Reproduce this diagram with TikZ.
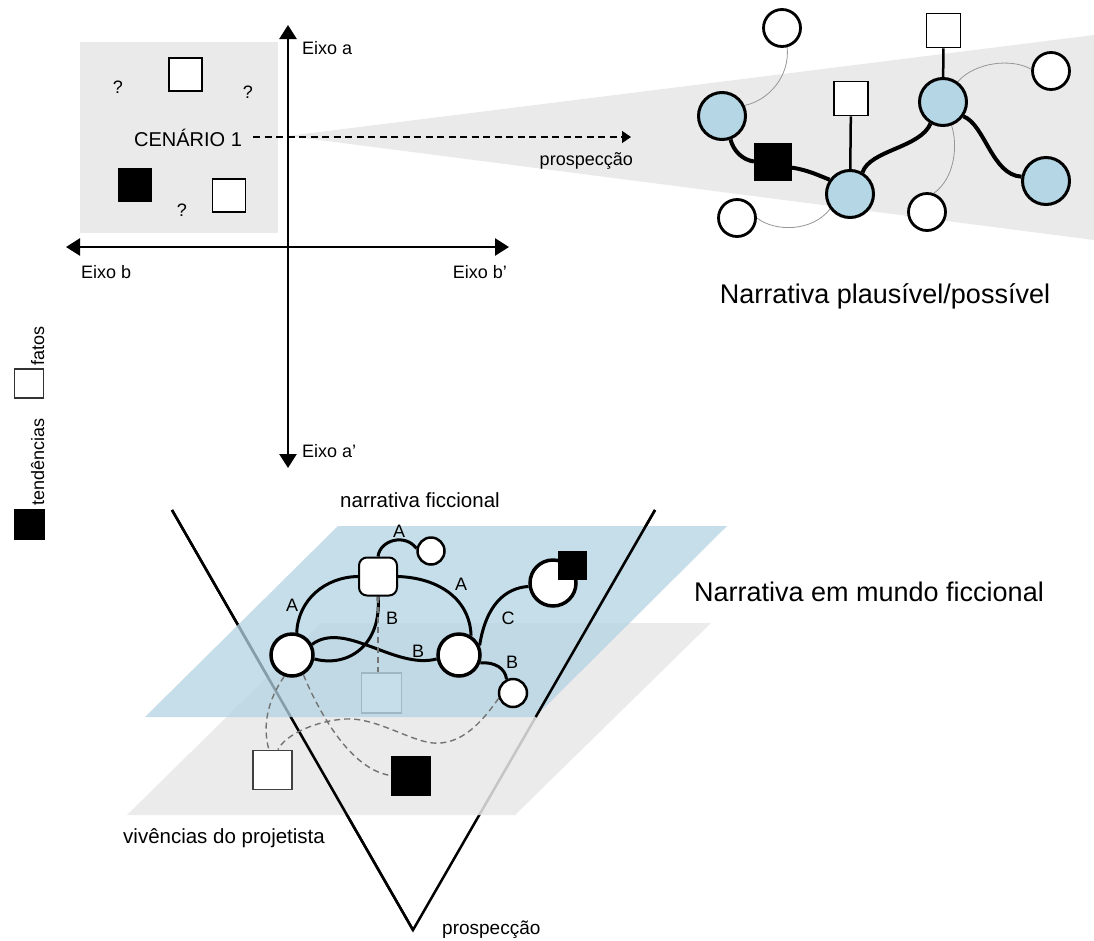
\documentclass[tikz,border=0pt]{standalone}
\usepackage{fontspec}
\setmainfont{Liberation Sans}
\usetikzlibrary{arrows.meta}

\definecolor{boxgray}{RGB}{234,234,234}
\definecolor{planegray}{RGB}{232,232,232}
\definecolor{planeblue}{RGB}{178,211,226}
\definecolor{nodeblue}{RGB}{181,214,228}
\definecolor{dashgray}{RGB}{115,115,115}
\definecolor{faintgray}{RGB}{150,150,150}

\pgfdeclarelayer{planes}
\pgfdeclarelayer{links}
\pgfsetlayers{planes,links,main}

\begin{document}
\begin{tikzpicture}[x=1pt,y=-1pt,
  lbl/.style={inner sep=0pt, font=\fontsize{18}{21}\selectfont},
  midlbl/.style={inner sep=0pt, font=\fontsize{20.5}{24}\selectfont},
  bigttl/.style={inner sep=0pt, font=\fontsize{27}{32}\selectfont},
  factsq/.style={rectangle, draw=black, fill=white, line width=1.8pt, inner sep=0pt, minimum size=#1},
  factsq/.default=33pt,
  trendsq/.style={rectangle, draw=black, fill=black, line width=1pt, inner sep=0pt, minimum size=#1},
  trendsq/.default=33pt,
  bnode/.style={circle, draw=black, fill=nodeblue, line width=3pt, minimum size=47pt, inner sep=0pt},
  wnode/.style={circle, draw=black, fill=white, line width=2.8pt, minimum size=37pt, inner sep=0pt},
  bigc/.style={circle, draw=black, fill=white, line width=3.5pt, minimum size=42pt, inner sep=0pt},
  smallc/.style={circle, draw=black, fill=white, line width=2.5pt, minimum size=27pt, inner sep=0pt},
  rsq/.style={rectangle, rounded corners=8pt, draw=black, fill=white, line width=2pt, minimum size=38pt, inner sep=0pt},
  axisline/.style={line width=2.5pt, {Triangle[length=14pt,width=17pt]}-{Triangle[length=14pt,width=17pt]}},
  prosarrow/.style={line width=1.3pt, dash pattern=on 7pt off 4.5pt, -{Triangle[length=9pt,width=12pt]}},
  heavylink/.style={line width=4pt, draw=black},
  stemlink/.style={line width=2.5pt, draw=black},
  thinlink/.style={line width=0.8pt, draw=faintgray},
  curvelink/.style={line width=3pt, draw=black},
  dlink/.style={line width=1.4pt, draw=dashgray, dash pattern=on 6pt off 4pt},
  vline/.style={line width=2.5pt, draw=black}
]
\useasboundingbox (0,0) rectangle (1094,940);

% ---------- coordinates ----------
\coordinate (aTop) at (288,25);
\coordinate (aBot) at (288,468);
\coordinate (bLeft) at (66,247);
\coordinate (bRight) at (509,247);
\coordinate (prosStart) at (253,137);
\coordinate (prosEnd) at (631,137);
\coordinate (vL) at (172,510);
\coordinate (vR) at (655,510);
\coordinate (vApex) at (413,930);
\coordinate (vRcut) at (535.7,717);

% ---------- planes, wedge and cone ----------
\begin{pgfonlayer}{planes}
  \fill[white] (0,0) rectangle (1094,940);
  \fill[boxgray] (288,136) -- (1094,35) -- (1094,240) -- cycle;
  \fill[boxgray] (80,42) rectangle (278,233);
  % cone drawn whole, then partly covered by the planes
  \draw[vline, line join=miter] (vL) -- (vApex) -- (vR);
  \fill[planegray, fill opacity=0.85] (322,623) -- (711,623) -- (515,815) -- (127,815) -- cycle;
  \draw[vline] (vL) -- (vApex);
  \node[rectangle, draw=black!60, fill=white, line width=1.5pt, minimum size=40pt, inner sep=0pt] (g1) at (381.5,693) {};
  \fill[planeblue, fill opacity=0.75] (338,526) -- (727,526) -- (535,717) -- (145,717) -- cycle;
  \draw[vline] (vR) -- (vRcut);
\end{pgfonlayer}

% ---------- axes ----------
\draw[axisline] (aBot) -- (aTop);
\draw[axisline] (bLeft) -- (bRight);
\node[lbl, anchor=base west] (eixoA) at (302,54) {Eixo a};
\node[lbl, anchor=base west] (eixoA2) at (302,457) {Eixo a’};
\node[lbl, anchor=base west] (eixoB) at (81,278) {Eixo b};
\node[lbl, anchor=base east] (eixoB2) at (507,278) {Eixo b’};

% ---------- scenario box ----------
\node[factsq=33pt] (f1) at (185.5,74.5) {};
\node[trendsq=33pt] (t1) at (135,185) {};
\node[factsq=33pt] (f2) at (229,195.5) {};
\node[lbl, anchor=base] (q1) at (118,93) {?};
\node[lbl, anchor=base] (q2) at (248,98) {?};
\node[lbl, anchor=base] (q3) at (182,216) {?};
\node[inner sep=0pt, font=\fontsize{20}{24}\selectfont, anchor=base] (cen) at (188,146.5) {CENÁRIO 1};
\draw[prosarrow] (prosStart) -- (prosEnd);
\node[lbl, anchor=base east] (prosA) at (633,165) {prospecção};

% ---------- plausible narrative graph ----------
\node[wnode] (w1) at (782,28) {};
\node[bnode] (b1) at (722,116) {};
\node[trendsq=37pt] (t2) at (773,161.5) {};
\node[factsq=34pt] (f3) at (851,98.5) {};
\node[bnode] (b2) at (850,194) {};
\node[wnode] (w2) at (737,218) {};
\node[factsq=34pt] (f4) at (943.5,30.5) {};
\node[bnode] (b3) at (943,102) {};
\node[wnode] (w3) at (1051,71) {};
\node[wnode] (w4) at (927,212) {};
\node[bnode] (b4) at (1046,181) {};

\begin{pgfonlayer}{links}
  \draw[thinlink] (w1.-75) .. controls (790,75) and (770,100) .. (b1.25);
  \draw[thinlink] (w2.0) .. controls (775,232) and (812,232) .. (b2.217);
  \draw[thinlink] (b3.54) .. controls (975,62) and (1012,58) .. (w3.175);
  \draw[thinlink] (b3.-70) .. controls (958,145) and (955,178) .. (w4.70);
  \draw[heavylink] (b1.-70) .. controls (733,150) and (742,160) .. (t2.west);
  \draw[heavylink] (t2.-18) .. controls (808,170) and (820,176) .. (b2.145);
  \draw[heavylink] (b2.60) .. controls (870,150) and (920,148) .. (b3.-120);
  \draw[heavylink] (b3.-35) .. controls (985,125) and (992,175) .. (b4.170);
  \draw[stemlink] (f3) -- (b2);
  \draw[stemlink] (f4) -- (b3);
\end{pgfonlayer}

\node[bigttl, anchor=base] (ttl1) at (885,303) {Narrativa plausível/possível};

% ---------- fictional world graph ----------
\node[rsq] (r1) at (378,576.5) {};
\node[smallc] (s1) at (431,551) {};
\node[bigc] (L1) at (292,655) {};
\node[bigc] (R1) at (459,655) {};
\node[smallc, minimum size=28pt] (s2) at (513,693) {};
\node[bigc, minimum size=46pt] (c1) at (553,583) {};
\node[trendsq=28pt] (t3) at (572.5,565) {};
\node[factsq=39pt, draw=black!75] (f5) at (272.5,770) {};
\node[trendsq=39pt] (t4) at (411,775.5) {};

\begin{pgfonlayer}{links}
  \draw[curvelink] (r1.north) .. controls (380,540) and (405,533) .. (s1.170);
  \draw[curvelink] (r1.west) .. controls (325,577) and (298,600) .. (L1.78);
  \draw[curvelink] (r1.east) .. controls (440,578) and (470,600) .. (R1.58);
  \draw[curvelink] (r1.south) .. controls (382,645) and (348,668) .. (L1.-10);
  \draw[curvelink] (L1.28) .. controls (345,620) and (395,670) .. (R1.190);
  \draw[curvelink] (R1.25) .. controls (486,605) and (505,588) .. (c1.188);
  \draw[curvelink] (R1.-20) .. controls (495,662) and (505,668) .. (s2.115);
  \draw[dlink] (L1.-110) .. controls (268,700) and (262,725) .. (f5.100);
  \draw[dlink] (L1.-60) .. controls (318,710) and (350,770) .. (t4.west);
  \draw[dlink] (s2.200) .. controls (480,725) and (460,745) .. (433,743)
               .. controls (410,741) and (375,717) .. (345,719)
               .. controls (315,721) and (285,735) .. (f5.75);
  \draw[dlink] (r1.south) -- (r1.south |- g1.north);
\end{pgfonlayer}

\node[lbl, anchor=base] (la1) at (399,537) {A};
\node[lbl, anchor=base] (la2) at (461,590) {A};
\node[lbl, anchor=base] (la3) at (292,611) {A};
\node[lbl, anchor=base] (lb1) at (392,624) {B};
\node[lbl, anchor=base] (lb2) at (418,657) {B};
\node[lbl, anchor=base] (lc1) at (508,624) {C};
\node[lbl, anchor=base] (lb3) at (512,668) {B};

\node[midlbl, anchor=base] (ttlF) at (420,507) {narrativa ficcional};
\node[bigttl, anchor=base] (ttl2) at (869,601) {Narrativa em mundo ficcional};
\node[midlbl, anchor=base west] (viv) at (123,843) {vivências do projetista};
\node[lbl, font=\fontsize{19}{22}\selectfont, anchor=base west] (prosB) at (442,934) {prospecção};

% ---------- legend ----------
\node[factsq=29pt, draw=black!80, line width=1.5pt] (legF) at (29,383.5) {};
\node[trendsq=30pt] (legT) at (29,524.5) {};
\node[lbl, rotate=90, anchor=base west] (legFt) at (44,366) {fatos};
\node[lbl, rotate=90, anchor=base west] (legTt) at (44,506) {tendências};
\end{tikzpicture}
\end{document}
